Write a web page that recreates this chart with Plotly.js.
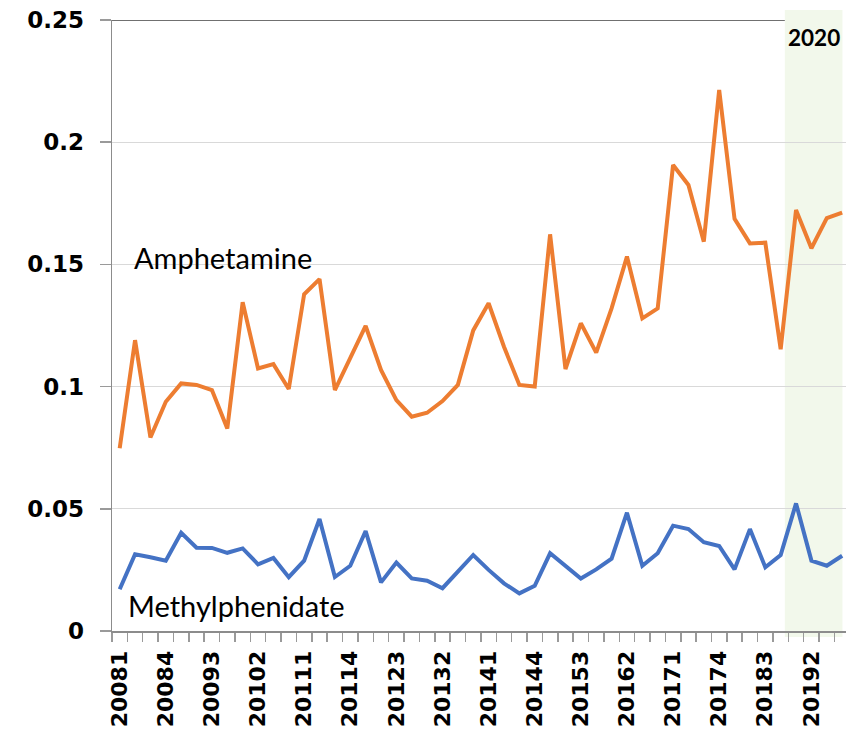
<!DOCTYPE html>
<html>
<head>
<meta charset="utf-8">
<script src="https://cdn.plot.ly/plotly-3.0.1.min.js"></script>
<style>html,body{margin:0;padding:0;background:#fff;}#chart{width:846px;height:734px;}</style>
</head>
<body>
<div id="chart"></div>
<script>
const quarters = ['20081','20082','20083','20084','20091','20092','20093','20094',
  '20101','20102','20103','20104','20111','20112','20113','20114',
  '20121','20122','20123','20124','20131','20132','20133','20134',
  '20141','20142','20143','20144','20151','20152','20153','20154',
  '20161','20162','20163','20164','20171','20172','20173','20174',
  '20181','20182','20183','20184','20191','20192','20193','20194'];

const amphetamine = [0.0748,0.1190,0.0792,0.0938,0.1013,0.1007,0.0986,0.0829,
  0.1345,0.1074,0.1092,0.0990,0.1378,0.1440,0.0986,0.1117,
  0.1248,0.1068,0.0945,0.0877,0.0893,0.0941,0.1007,0.1230,
  0.1341,0.1163,0.1007,0.1000,0.1623,0.1072,0.1259,0.1139,
  0.1320,0.1532,0.1279,0.1320,0.1907,0.1825,0.1593,0.2214,
  0.1686,0.1586,0.1589,0.1153,0.1723,0.1566,0.1689,0.1712];

const methylphenidate = [0.0171,0.0314,0.0302,0.0288,0.0402,0.0341,0.0340,0.0320,
  0.0338,0.0273,0.0299,0.0220,0.0288,0.0458,0.0221,0.0267,
  0.0409,0.0199,0.0280,0.0215,0.0206,0.0175,0.0243,0.0311,
  0.0250,0.0195,0.0154,0.0185,0.0318,0.0267,0.0215,0.0252,
  0.0296,0.0484,0.0267,0.0318,0.0431,0.0417,0.0363,0.0348,
  0.0252,0.0417,0.0261,0.0311,0.0522,0.0288,0.0267,0.0308];

const yTicks = [0, 0.05, 0.1, 0.15, 0.2, 0.25];
const labelEvery = 3;
const highlightLabel = '2020';

const xIdx = quarters.map((q, i) => i);
const tickIdx = xIdx.filter(i => i % labelEvery === 0);
const tickTxt = tickIdx.map(i => quarters[i]);

const xTickFont = {family: 'DejaVu Sans, Verdana, sans-serif', size: 22, color: '#000', weight: 'bold'};
const yTickFont = {family: 'DejaVu Sans, Verdana, sans-serif', size: 23, color: '#000', weight: 'bold'};
const labelFont = {family: 'Lato, Calibri, sans-serif', size: 29, color: '#000'};

const traces = [
  {x: xIdx, y: amphetamine, type: 'scatter', mode: 'lines', name: 'Amphetamine',
   line: {color: '#ED7D31', width: 4}, hoverinfo: 'skip'},
  {x: xIdx, y: methylphenidate, type: 'scatter', mode: 'lines', name: 'Methylphenidate',
   line: {color: '#4472C4', width: 4}, hoverinfo: 'skip'}
];

const gx0 = 43.27, gx1 = 47.02;

const layout = {
  width: 846, height: 734,
  margin: {l: 112, r: 0, t: 20, b: 103, pad: 0},
  paper_bgcolor: '#fff', plot_bgcolor: '#fff',
  showlegend: false,
  xaxis: {
    range: [-0.5, 47.25], tickmode: 'array', tickvals: tickIdx, ticktext: tickTxt,
    tickangle: -90, ticks: '', showgrid: false, zeroline: false,
    showline: true, linecolor: '#8c8c8c', linewidth: 2,
    tickfont: xTickFont, ticklabelstandoff: 9,
    minor: {ticks: 'outside', tick0: -0.5, dtick: 1, ticklen: 9, tickcolor: '#9a9a9a', tickwidth: 1.5, showgrid: false}
  },
  yaxis: {
    range: [0, 0.25], tickmode: 'array', tickvals: yTicks,
    ticktext: yTicks.map(v => String(v)),
    ticks: 'outside', ticklen: 11, tickcolor: '#9a9a9a', tickwidth: 1.5,
    showline: true, linecolor: '#8c8c8c', linewidth: 1.5,
    showgrid: true, gridcolor: '#d9d9d9', gridwidth: 1, zeroline: false,
    tickfont: yTickFont, ticklabelstandoff: 11
  },
  shapes: [
    {type: 'rect', xref: 'x', yref: 'paper', x0: gx0, x1: gx1, y0: -0.01, y1: 1.0164,
     fillcolor: '#f2f8eb', line: {width: 0}, layer: 'below'},
    {type: 'line', xref: 'x', yref: 'y', x0: -0.5, x1: gx0, y0: 0.25, y1: 0.25,
     line: {color: '#404040', width: 1.5}}
  ],
  annotations: [
    {text: 'Amphetamine', xref: 'x', yref: 'y', x: 0.78, y: 0.153, xanchor: 'left', yanchor: 'middle',
     showarrow: false, font: labelFont},
    {text: 'Methylphenidate', xref: 'x', yref: 'y', x: 0.4, y: 0.0104, xanchor: 'left', yanchor: 'middle',
     showarrow: false, font: labelFont},
    {text: highlightLabel, xref: 'x', yref: 'paper', x: gx0 + 0.1, y: 0.972, xanchor: 'left', yanchor: 'middle',
     showarrow: false, font: {family: 'Lato, Calibri, sans-serif', size: 22.5, color: '#000', weight: 'bold'}}
  ]
};

Plotly.newPlot('chart', traces, layout, {staticPlot: true, displayModeBar: false});
</script>
</body>
</html>
